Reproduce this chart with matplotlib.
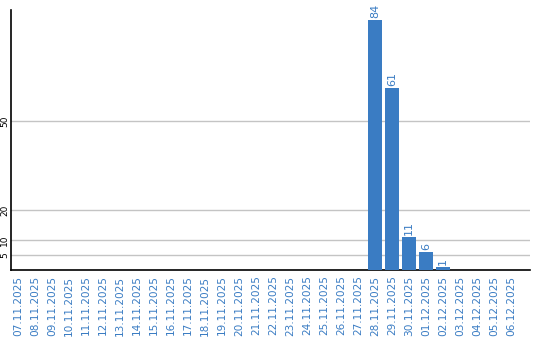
import datetime as dt
import numpy as np
from matplotlib import pyplot as plt

# daily counts, 07.11.2025 .. 06.12.2025
start = dt.date(2025, 11, 7)
dates = [(start + dt.timedelta(days=i)).strftime('%d.%m.%Y') for i in range(30)]
counts = [0] * 21 + [84, 61, 11, 6, 1, 0, 0, 0, 0]
yticks = [5, 10, 20, 50]

blue = '#3a7cc3'

fig = plt.figure(figsize=(5.4, 3.4), dpi=100)
ax = fig.add_axes([11 / 540, 1 - 270 / 340, 519 / 540, 260 / 340])

x = np.arange(len(dates))
bars = ax.bar(x, counts, width=0.82, color=blue, zorder=3)
for xi, v in zip(x, counts):
    if v > 0:
        ax.text(xi, v + 0.6, str(v), rotation=90, ha='center', va='bottom',
                color=blue, fontsize=8)

ax.set_xlim(-0.41, 30.1)
ax.set_ylim(0, 87.2)
ax.set_xticks(x)
ax.set_xticklabels(dates, rotation=90, color=blue, fontsize=7.6)
ax.set_yticks(yticks)
ax.set_yticklabels([str(t) for t in yticks], rotation=90, fontsize=6.5, va='center')
ax.tick_params(axis='x', length=0, pad=4)
ax.tick_params(axis='y', length=0, pad=1.5)
ax.grid(axis='y', color='#c4c4c4', linewidth=1, zorder=0)
ax.spines['top'].set_visible(False)
ax.spines['right'].set_visible(False)
ax.spines['left'].set_linewidth(1.2)
ax.spines['bottom'].set_linewidth(1.2)

plt.savefig('out.png', dpi=100)
